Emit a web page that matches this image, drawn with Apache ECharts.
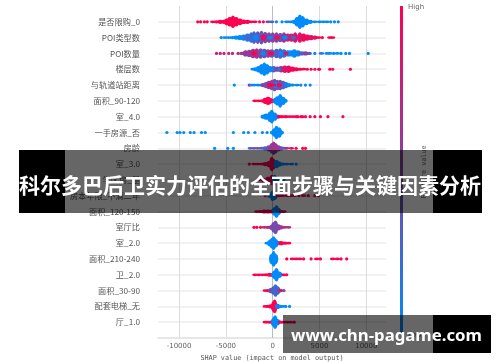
<!DOCTYPE html>
<html><head><meta charset="utf-8">
<style>html,body{margin:0;padding:0;background:#fff}#c{width:500px;height:362px;filter:blur(0.45px)}</style>
<script src="https://cdn.jsdelivr.net/npm/echarts@6/dist/echarts.min.js"></script>
</head><body><div id="c"></div>
<script>
const featureNames=['是否限购_0','POI类型数','POI数量','楼层数','与轨道站距离','面积_90-120','室_4.0','一手房源_否','房龄','室_3.0','学区房_是','房本年限_不满二年','面积_120-150','室厅比','室_2.0','面积_210-240','卫_2.0','面积_30-90','配套电梯_无','厅_1.0'];
const tickValues=[-10000,-5000,0,5000,10000];
// each point: [SHAP value, swarm half-height, feature value 0..1]
const row0=[[-8000,1,1],[-7700,1,1],[-7300,1,1],[-7000,1,1],[-6400,1.3,1],[-6000,1.5,1],[-5600,2,1],[-5200,2,1],[-4900,3.2,1],[-4600,4.5,1],[-4250,6,1],[-3900,4.5,1],[-3500,3.2,1],[-3100,2.2,1],[-2700,2,1],[-2300,1.3,1],[-1900,1.3,1],[-1400,1,1],[-1000,1,.9],[-500,1.3,.5],[-100,1.3,.3],[400,1,0],[1000,1,0],[1500,1.3,0],[1900,1.3,0],[2300,2,0],[2600,4.5,0],[2900,7,0],[3200,5.5,0],[3600,3.2,0],[4000,2,0],[4500,1.3,0],[5000,1.3,0],[5400,1.3,0],[5800,1.3,0],[6200,1,0],[6600,1,0],[7000,1,0]];
const row1=[[-5500,1,0],[-5100,1.3,0],[-4700,1.3,0],[-4300,1.5,0],[-3900,2,0],[-3500,2.5,0],[-3100,3,.1],[-2700,4,.2],[-2300,5,.2],[-2000,6,.3],[-1600,6,.4],[-1200,6.5,.35],[-800,5.5,.45],[-400,5,.6],[0,5,.5],[400,5,.55],[800,4.5,.4],[1200,5,.6],[1600,4,.7],[2000,4,.8],[2400,5,.9],[2900,5,.85],[3300,4,.95],[3700,3,.95],[4100,2.5,.9],[4500,2,.9],[4900,1.3,1],[5300,1,1],[6100,1.3,1],[6400,1.3,1]];
const row1b=[[-1800,3,0],[-1000,3,.9],[-300,2,0],[500,2,.95],[1300,2,0],[2200,2,.3]];
const row2=[[-6000,1,.8],[-5600,1,.75],[-5200,1,.8],[-4700,1,.7],[-4300,1,.8],[-3700,1,.7],[-3300,1.5,.6],[-2900,3,.6],[-2500,3.5,.55],[-2100,4.5,.6],[-1700,5,.65],[-1300,5,.5],[-900,4.5,.4],[-500,4,.55],[-100,4,.4],[400,4.5,.3],[800,5,.3],[1200,4,.25],[1600,3,.1],[1900,3,0],[2300,4,0],[2700,3,.1],[3100,2,.3],[3500,2,.5],[3900,1.5,.4],[4500,1,0],[5200,1.3,.1],[5800,1.3,0],[6100,1.3,0],[6500,1,0],[6900,1.3,0],[7300,1,0],[7800,1,0],[8200,1,0],[10200,1,0]];
const row2b=[[-2000,2,1],[-1000,2,0],[-200,2,1],[900,2,0],[1400,1.5,.9]];
const row3=[[-2100,1.3,0],[-1800,2,0],[-1500,3,0],[-1200,5,0],[-900,6.5,0],[-600,5,0],[-300,3,.05],[100,3,.3],[500,2.5,.5],[900,3,.7],[1300,3.5,.85],[1700,3.5,.9],[2100,2.5,.95],[2500,2,1],[2900,1.5,1],[3300,1.3,1],[3700,1,1],[4100,1,1],[4500,1,.9],[4900,1,.8],[5000,1,1],[6100,1,1],[6400,1,1],[8300,1,1]];
const row3b=[[-100,1.5,0],[700,1,0]];
const row4=[[-4100,1,0],[-2500,1,.95],[-2300,1.3,0],[-2000,1.3,0],[-1600,1.3,0],[-1300,1.3,0],[-1000,2,.6],[-700,3,.4],[-400,4,.6],[-100,5,.5],[200,6,.5],[500,5,.4],[800,5,.5],[1100,4,.3],[1400,3,.2],[1700,2,0],[2100,1.5,0],[2600,1.3,0],[3000,1,0],[3500,1,0],[4000,1,0]];
const row4b=[[-300,2,1],[300,3,0],[700,2,.95],[100,1.5,1]];
const row5=[[-1900,1.3,1],[-1500,1.3,1],[-1100,1.5,1],[-800,3,1],[-500,4,1],[-300,3,1],[0,2,1],[300,3,0],[500,4.5,0],[800,6.5,0],[1100,4,0],[1300,2,0],[1000,1,0]];
const row6=[[-300,5,0],[-700,3,0],[-1000,2,0],[-100,6.5,0],[200,4,0],[500,2,.05],[700,1.5,1],[1000,1.5,1],[1400,1.5,1],[1800,1.3,1],[2200,1.3,1],[2600,1.5,1],[3100,1.5,1],[3500,1,1],[4000,1,1],[4500,1,1],[5100,1,1],[5900,1,1],[7500,1,.9]];
const row7=[[-11300,1,0],[-10200,1,0],[-9900,1,0],[-9500,1,0],[-8800,1,0],[-8400,1,0],[-7600,1,0],[-7200,1,0],[-4200,1,0],[-3100,1,0],[-2600,1,0],[-1900,1,0],[-1100,1,0],[-600,1,0],[0,2,0],[200,4,0],[400,6.5,0],[700,5,0],[900,2,0]];
const row8=[[-6200,1,0],[-4800,1,0],[-4200,1,0],[-2400,1.3,.3],[-2000,1.3,.4],[-1600,1.3,.4],[-1200,1.5,.3],[-800,2,.3],[-400,3,.5],[-100,5,.55],[100,6.5,.65],[300,5,.6],[600,3,.6],[900,2,.5],[1200,1.5,.3],[1500,1.3,.7],[2000,1.3,.9],[2500,1,1],[3200,1,1],[3500,1,1]];
const row9=[[-2500,1,1],[-2000,1.3,1],[-1600,1.3,1],[-1200,1.3,1],[-800,2,1],[-400,3,1],[-100,7,1],[100,5,1],[400,4,0],[700,2.5,0],[1100,1.5,0],[1500,1.3,0],[2000,1.3,0],[2500,1,0]];
const row10=[[-1500,1.3,1],[-1000,2,1],[-500,3,1],[-100,5,1],[200,5,0],[500,3,0],[800,1.5,0],[1200,1,0]];
const row11=[[-800,1,1],[-300,2,0],[0,5,0],[200,4,0],[600,1.5,1],[1000,1.3,1],[1500,1.3,1],[1900,1.3,1],[2300,1.3,1],[2800,1,1],[3300,1.3,1],[3800,1,1],[4500,1,1],[4900,1,1]];
const row12=[[-1700,1.3,1],[-1300,1.5,1],[-900,2,1],[-500,2,1],[-100,2,1],[200,4,0],[400,6,0],[600,3.5,0],[900,1.5,1],[1200,1.3,1]];
const row13=[[-2000,1,1],[-1700,1,1],[-1300,1,1],[-900,1.3,.8],[-500,1.5,.7],[-100,2.5,.55],[100,5,.5],[300,6.5,.45],[600,3,.5],[900,2,.6],[1300,1.3,.7],[1700,1.3,.7]];
const row14=[[-600,1.3,0],[-300,3,0],[-100,5,0],[100,6.5,0],[300,4,0],[600,2,.1],[900,2,1],[1300,1.5,1],[1700,1.3,1]];
const row15=[[-100,5,0],[100,7.5,0],[300,5,0],[1500,1,1],[2100,1.3,1],[2500,1.3,1],[2900,1.3,1],[3300,1,1],[4100,1,1],[4700,1.3,1],[5100,1,1],[6400,1.3,1],[6900,1.3,1],[7300,1,1],[7900,1,1]];
const row16=[[-1900,1.3,1],[-1500,1.3,1],[-1100,1.3,1],[-700,1.5,1],[-300,2,1],[0,2,.5],[200,4,0],[400,6.5,0],[700,3,0],[900,1.5,0],[1200,1.3,1],[1500,1,1]];
const row17=[[-800,1.3,1],[-500,1.5,.9],[-200,2.5,.5],[100,4,.3],[300,6,.2],[500,4,.3],[700,2,.4],[900,1.3,.9],[1200,1,.5]];
const row18=[[-800,1.3,1],[-500,1.5,1],[-200,2,1],[100,5,1],[200,6.5,1],[500,2.5,.2],[800,1.5,0],[1100,1.3,0],[1400,1,0],[1800,1,0]];
const row19=[[-800,1.3,1],[-500,1.3,1],[-200,1.5,.9],[100,4,.1],[250,6.5,0],[500,3,0],[800,1.5,.8],[1100,1.3,1],[1500,1.3,1],[1900,1.3,1],[2300,1,1]];
const rows=[row0,row1,row2,row3,row4,row5,row6,row7,row8,row9,row10,row11,row12,row13,row14,row15,row16,row17,row18,row19];
const overlays=[[1,row1b],[2,row2b],[3,row3b],[4,row4b]];

const lo=[0,139,251],hi=[255,0,81];
const colorOf=f=>'rgb('+lo.map((c,i)=>Math.round(c+(hi[i]-c)*f)).join(',')+')';
const points=[];
rows.forEach((r,i)=>r.forEach(p=>points.push([p[0],i,p[1],p[2]])));
overlays.forEach(([i,r])=>r.forEach(p=>points.push([p[0],i,p[1],p[2]])));

const chart=echarts.init(document.getElementById('c'),null,{renderer:'canvas'});
const banner=(x,y,w,h,fill)=>({type:'rect',z:100,shape:{x,y,width:w,height:h},style:{fill},silent:true});
chart.setOption({
  animation:false,
  backgroundColor:'#fff',
  grid:{left:158,right:114,top:6,bottom:24,outerBoundsMode:'none'},
  xAxis:{type:'value',min:-12250,max:12100,
    axisLine:{show:true,onZero:false,lineStyle:{color:'#e2e2e2',width:1.5}},
    axisTick:{show:false,customValues:tickValues},
    axisLabel:{customValues:tickValues,fontSize:7,color:'#666',margin:5,fontFamily:'DejaVu Sans',formatter:v=>String(v)},
    splitLine:{show:true,lineStyle:{color:'#dcdcdc',width:1}},
    name:'SHAP value (impact on model output)',nameLocation:'middle',nameGap:9,
    nameTextStyle:{fontSize:6.8,color:'#555',fontFamily:'DejaVu Sans Mono'}},
  yAxis:{type:'value',inverse:true,min:-1,max:20,interval:1,
    axisLine:{show:false},axisTick:{show:false},
    axisLabel:{fontSize:8.2,color:'#555',margin:18,fontFamily:'Noto Sans CJK SC',
      formatter:v=>featureNames[v]||''},
    splitLine:{show:true,showMinLine:false,lineStyle:{color:'#ececec',width:1.5}}},
  series:[{type:'scatter',data:points,clip:false,
    encode:{x:0,y:1},
    symbol:'circle',
    symbolSize:v=>[v[2]>=1.3?5.5:3.2,v[2]>=1.3?v[2]*2.1:3.2],
    itemStyle:{color:p=>colorOf(p.value[3]),opacity:1},
    markLine:{silent:true,symbol:'none',label:{show:false},z:1,
      lineStyle:{color:'#bdbdbd',width:1,type:'solid'},data:[{xAxis:0}]}
  }],
  graphic:[
    {type:'rect',z:50,silent:true,shape:{x:400,y:6,width:3,height:328},
     style:{fill:new echarts.graphic.LinearGradient(0,0,0,1,[{offset:0,color:colorOf(1)},{offset:1,color:colorOf(0)}])}},
    {type:'text',z:50,silent:true,x:408,y:7,style:{text:'High',fontSize:7,fill:'#666',fontFamily:'DejaVu Sans',verticalAlign:'middle'}},
    {type:'text',z:50,silent:true,x:408,y:335,style:{text:'Low',fontSize:7,fill:'#666',fontFamily:'DejaVu Sans',verticalAlign:'middle'}},
    {type:'text',z:50,silent:true,x:424,y:172,rotation:Math.PI/2,style:{text:'Feature value',fontSize:6.8,fill:'#666',fontFamily:'DejaVu Sans Mono',align:'center',verticalAlign:'middle'}},
    banner(19,150,46,63,'#000'),banner(65,150,368,63,'rgba(0,0,0,0.6)'),banner(433,150,49,63,'#000'),
    banner(283,315,150,38,'rgba(0,0,0,0.6)'),banner(433,315,58,38,'#000'),
    {type:'text',z:101,silent:true,x:250,y:185,style:{text:'科尔多巴后卫实力评估的全面步骤与关键因素分析',fontSize:21,fontWeight:'bold',fill:'#fff',fontFamily:'Noto Sans CJK SC',align:'center',verticalAlign:'middle'}},
    {type:'text',z:101,silent:true,x:386.5,y:336,style:{text:'www.chn-pagame.com',fontSize:16.8,fontWeight:'bold',fill:'#fff',fontFamily:'Noto Sans',align:'center',verticalAlign:'middle'}}
  ]
});
</script></body></html>
